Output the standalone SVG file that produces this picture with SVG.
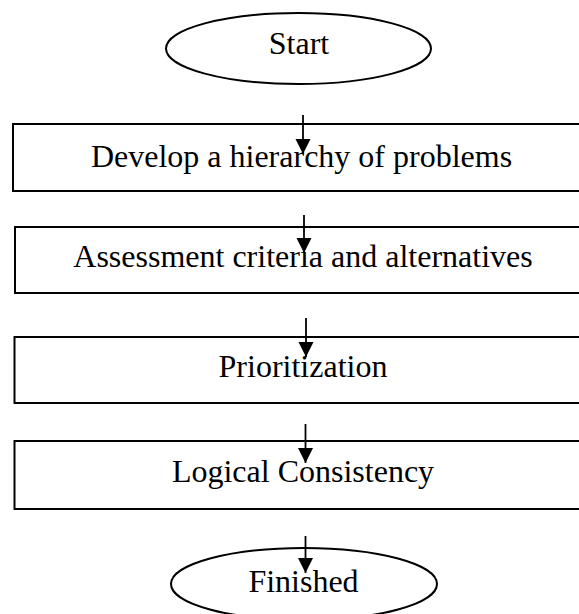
<svg xmlns="http://www.w3.org/2000/svg" width="579" height="614" viewBox="0 0 579 614">
<style>
.shape{fill:#fff;stroke:#000;stroke-width:2}
.lbl{font-family:"Liberation Serif","Times New Roman",serif;font-size:32px;fill:#000;text-anchor:middle}
.conn{stroke:#000;stroke-width:1.8;fill:none}
</style>
<defs>
<marker id="ah" markerUnits="userSpaceOnUse" markerWidth="16" markerHeight="16" viewBox="0 0 16 16" refX="15" refY="8" orient="auto">
<path d="M0,0.5 L15,8 L0,15.5 Z" fill="#000"/>
</marker>
</defs>
<g id="start">
<ellipse class="shape" cx="298.5" cy="48.5" rx="132.5" ry="35.5"/>
<text class="lbl" x="299" y="54">Start</text>
</g>
<g id="develop">
<rect class="shape" x="13" y="124" width="600" height="67"/>
<text class="lbl" x="301.5" y="167">Develop a hierarchy of problems</text>
</g>
<g id="assessment">
<rect class="shape" x="15" y="227" width="600" height="66"/>
<text class="lbl" x="303" y="267">Assessment criteria and alternatives</text>
</g>
<g id="prioritization">
<rect class="shape" x="14.5" y="337" width="600" height="66"/>
<text class="lbl" x="303" y="377">Prioritization</text>
</g>
<g id="logical">
<rect class="shape" x="14.5" y="441" width="600" height="68"/>
<text class="lbl" x="303" y="482">Logical Consistency</text>
</g>
<g id="finished">
<ellipse class="shape" cx="304" cy="584" rx="133" ry="36"/>
<text class="lbl" x="303.5" y="592">Finished</text>
</g>
<g id="connectors">
<line class="conn" x1="303" y1="115" x2="303" y2="154" marker-end="url(#ah)"/>
<line class="conn" x1="304" y1="215" x2="304" y2="253" marker-end="url(#ah)"/>
<line class="conn" x1="306" y1="318" x2="306" y2="357" marker-end="url(#ah)"/>
<line class="conn" x1="305.5" y1="424" x2="305.5" y2="463" marker-end="url(#ah)"/>
<line class="conn" x1="305.5" y1="536" x2="305.5" y2="573" marker-end="url(#ah)"/>
</g>
</svg>
